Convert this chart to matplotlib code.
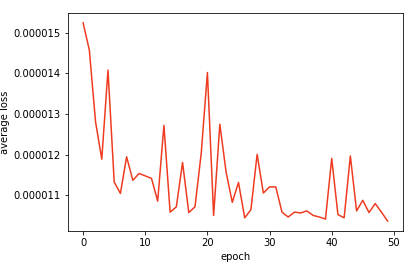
import matplotlib
matplotlib.use('Agg')
import matplotlib.pyplot as plt

# perda média por época (em unidades de 1e-6)
epocas = list(range(50))
perda_e6 = [15.24, 14.57, 12.81, 11.89, 14.08, 11.33, 11.05, 11.95, 11.37, 11.54,
            11.48, 11.42, 10.86, 12.72, 10.59, 10.72, 11.81, 10.58, 10.72, 12.03,
            14.02, 10.51, 12.75, 11.58, 10.83, 11.32, 10.45, 10.65, 12.01, 11.06,
            11.21, 11.21, 10.59, 10.47, 10.59, 10.57, 10.62, 10.51, 10.47, 10.42,
            11.91, 10.53, 10.45, 11.97, 10.62, 10.88, 10.58, 10.80, 10.59, 10.37]
perda = [v * 1e-6 for v in perda_e6]

fig = plt.figure(figsize=(409 / 72, 264 / 72), dpi=72)
ax = fig.add_subplot(111)
fig.subplots_adjust(left=0.166, right=0.985, top=0.951, bottom=0.125)

ax.plot(epocas, perda, color='#ee3a1f', linewidth=1.5)
ax.set_xlabel('epoch')
ax.set_ylabel('average loss')
ax.set_yticks([1.1e-5, 1.2e-5, 1.3e-5, 1.4e-5, 1.5e-5])
ax.set_yticklabels(['0.000011', '0.000012', '0.000013', '0.000014', '0.000015'])
ax.set_xticks([0, 10, 20, 30, 40, 50])

fig.savefig('out.png', dpi=72)
